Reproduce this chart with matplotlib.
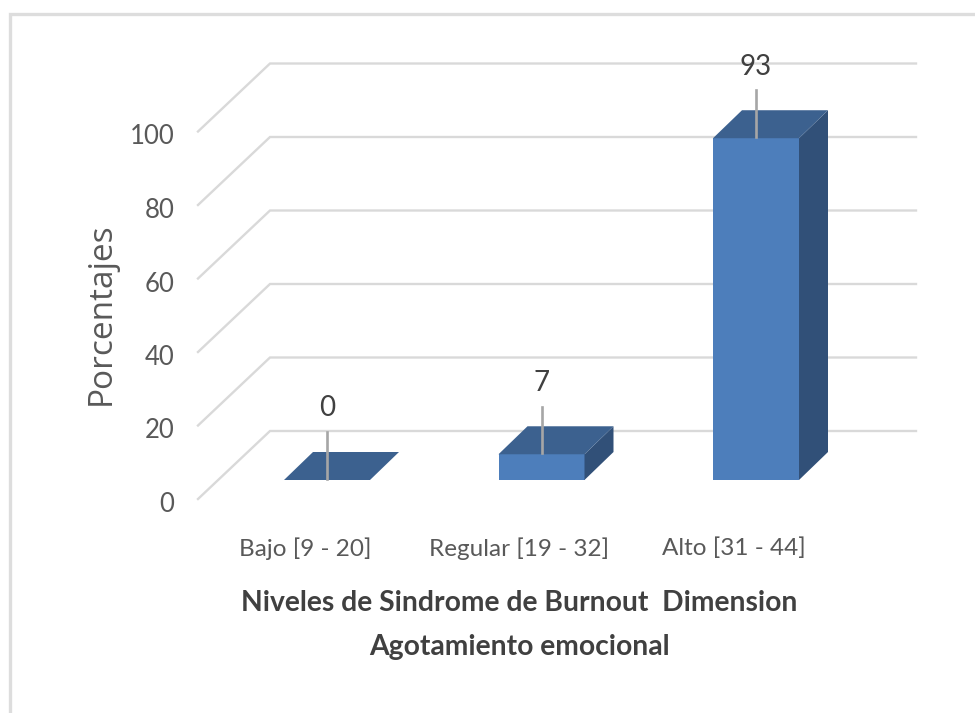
import matplotlib
matplotlib.use("Agg")
import matplotlib.pyplot as plt
from matplotlib.patches import Polygon
from matplotlib.lines import Line2D
from matplotlib.transforms import ScaledTranslation

categories = ["Bajo [9 - 20]", "Regular [19 - 32]", "Alto [31 - 44]"]
values = [0, 7, 93]
y_ticks = [0, 20, 40, 60, 80, 100]
x_title = "Niveles de Sindrome de Burnout  Dimension\nAgotamiento emocional"
y_title = "Porcentajes"

W, H = 975, 713
body = "Lato"

fig = plt.figure(figsize=(W / 100, H / 100), dpi=100, facecolor="white")
L, R, B, T = 198, 916, 499, 63
ax = fig.add_axes([L / W, 1 - B / H, (R - L) / W, (B - T) / H])
ax.patch.set_alpha(0)
PX = 214.5      # pixels per category
PY = 3.675      # pixels per percent
ax.set_xlim((L - 305) / PX, (R - 305) / PX)
ax.set_ylim(0, (B - T) / PY)
for s in ax.spines.values():
    s.set_visible(False)

# 3-D wall offsets (in pixels -> data)
wx, wy = 72 / PX, 68 / PY
grid = "#D9D9D9"
x0, x1 = ax.get_xlim()
for v in y_ticks:
    ax.plot([x0, x0 + wx, x1], [v, v + wy, v + wy], color=grid, lw=1.7,
            zorder=1, clip_on=False, solid_joinstyle="miter")

# bars
front, top, side = "#4D7EBB", "#3C618F", "#315078"
bw = 86 / PX
ox, oy = 22 / PX, 19 / PY       # bar placement in depth
dx, dy = 29 / PX, 28 / PY       # bar depth
for i, v in enumerate(values):
    xl = i + ox - bw / 2
    xr = xl + bw
    yb = oy
    yt = oy + v
    if v > 0:
        ax.add_patch(Polygon([(xl, yb), (xr, yb), (xr, yt), (xl, yt)], fc=front, ec="none", zorder=3))
        ax.add_patch(Polygon([(xr, yb), (xr + dx, yb + dy), (xr + dx, yt + dy), (xr, yt)], fc=side, ec="none", zorder=3))
    ax.add_patch(Polygon([(xl, yt), (xr, yt), (xr + dx, yt + dy), (xl + dx, yt + dy)], fc=top, ec="none", zorder=3))
    # leader line and value label
    ax.plot([i + ox, i + ox], [yt + 0.3, yt + 13], color="#A6A6A6", lw=1.9, zorder=4)
    ax.text(i + ox, yt + 19.5, str(v), ha="center", va="center", fontsize=20,
            family=body, color="#404040", zorder=5)

ax.set_xticks(range(len(categories)), categories)
ax.set_yticks(y_ticks)
ax.tick_params(axis="both", length=0, labelcolor="#595959")
ax.tick_params(axis="x", pad=27.5, labelsize=17.5)
ax.tick_params(axis="y", pad=17, labelsize=18.5)
for t in ax.get_xticklabels() + ax.get_yticklabels():
    t.set_family(body)
shift = ScaledTranslation(0, -3 / 100, fig.dpi_scale_trans)
for t in ax.get_yticklabels():
    t.set_va("center_baseline")
    t.set_transform(t.get_transform() + shift)

ax.set_xlabel(x_title, fontsize=20.3, fontweight="bold", family=body, color="#404040", linespacing=1.86)
ax.xaxis.set_label_coords((519 - L) / (R - L), -(660 - B) / (B - T), transform=ax.transAxes)
ax.xaxis.label.set_va("bottom")
ax.set_ylabel(y_title, fontsize=24, family="Open Sans", color="#595959")
ax.yaxis.set_label_coords((118 - L) / (R - L), (B - 314) / (B - T), transform=ax.transAxes)

# outer frame
fc = "#DDDDDD"
fig.add_artist(Line2D([10 / W, 10 / W, 1], [0, 1 - 14 / H, 1 - 14 / H], color=fc, lw=2.4, solid_joinstyle="miter"))

fig.savefig("out.png", dpi=100)
